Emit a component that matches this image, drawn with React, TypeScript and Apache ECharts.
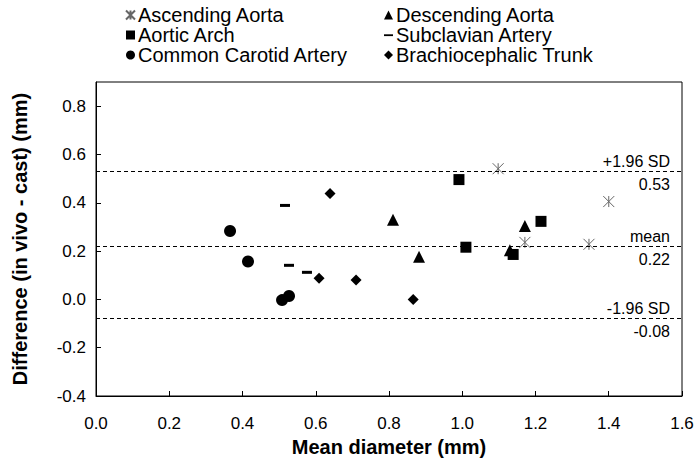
import React, { useEffect, useRef } from "react";
import * as echarts from "echarts";

const seriesNames = [
  "Ascending Aorta",
  "Descending Aorta",
  "Aortic Arch",
  "Subclavian Artery",
  "Common Carotid Artery",
  "Brachiocephalic Trunk",
];

const ascendingAorta: [number, number][] = [
  [1.098, 0.541],
  [1.4, 0.405],
  [1.171, 0.236],
  [1.346, 0.228],
];
const descendingAorta: [number, number][] = [
  [0.811, 0.33],
  [0.882, 0.176],
  [1.13, 0.203],
  [1.171, 0.304],
];
const aorticArch: [number, number][] = [
  [0.991, 0.496],
  [1.01, 0.216],
  [1.139, 0.186],
  [1.215, 0.323],
];
const subclavianArtery: [number, number][] = [
  [0.516, 0.389],
  [0.527, 0.141],
  [0.576, 0.112],
];
const commonCarotid: [number, number][] = [
  [0.366, 0.283],
  [0.415, 0.157],
  [0.508, -0.003],
  [0.527, 0.014],
];
const brachiocephalic: [number, number][] = [
  [0.639, 0.438],
  [0.609, 0.088],
  [0.71, 0.08],
  [0.866, 0.0],
];

const upperLimit = 0.53;
const meanDiff = 0.22;
const lowerLimit = -0.08;
const refLabels = ["+1.96 SD", "mean", "-1.96 SD"];

const FONT = "'Liberation Sans', Arial, sans-serif";

export default function App() {
  const ref = useRef<HTMLDivElement>(null);
  useEffect(() => {
    if (!ref.current) return;
    const chart = echarts.init(ref.current, undefined, { renderer: "svg" });
    const star = "path://M0,0L10,10M10,0L0,10M5,0L5,10";
    const dashIcon = "path://M0,0M0,3.8L9,3.8L9,5.6L0,5.6ZM9,9";
    const lineLabel = (v: number, top: string) => [
      {
        yAxis: v,
        label: {
          show: true,
          position: "insideEndTop",
          formatter: top,
          color: "#000",
          fontSize: 16,
          fontFamily: FONT,
          distance: [12, 2],
        },
      },
      {
        yAxis: v,
        label: {
          show: true,
          position: "insideEndBottom",
          formatter: v.toFixed(2),
          color: "#000",
          fontSize: 16,
          fontFamily: FONT,
          distance: [12, 5],
        },
      },
    ];
    const base = (name: string, data: [number, number][], symbol: string, size: any, color: string, extra: any = {}) => ({
      name,
      type: "scatter",
      data,
      symbol,
      symbolSize: size,
      itemStyle: { color, opacity: 1, ...extra },
      z: 3,
    });
    const legendCommon = {
      orient: "vertical",
      top: 0,
      itemWidth: 9,
      itemHeight: 9,
      itemGap: 0,
      textStyle: {
        fontSize: 20,
        lineHeight: 17.5,
        color: "#000",
        fontFamily: FONT,
        padding: [0, 0, 0, -2],
      },
    };
    chart.setOption({
      animation: false,
      textStyle: { fontFamily: FONT },
      legend: [
        {
          ...legendCommon,
          left: 120,
          data: [seriesNames[0], seriesNames[2], seriesNames[4]],
        },
        {
          ...legendCommon,
          left: 379,
          data: [
            seriesNames[1],
            { name: seriesNames[3], icon: dashIcon },
            seriesNames[5],
          ],
        },
      ],
      grid: {
        left: 96,
        right: 17,
        top: 82,
        bottom: 70,
        show: true,
        borderColor: "#000",
        borderWidth: 1,
        backgroundColor: "transparent",
      },
      xAxis: {
        type: "value",
        min: 0,
        max: 1.6,
        interval: 0.2,
        name: "Mean diameter (mm)",
        nameLocation: "middle",
        nameGap: 41,
        nameTextStyle: { fontSize: 20, fontWeight: "bold", color: "#000", fontFamily: FONT },
        axisLine: { show: true, onZero: false, lineStyle: { color: "#000" } },
        axisTick: { show: true, inside: true, length: 5, lineStyle: { color: "#000" } },
        axisLabel: {
          color: "#000",
          fontSize: 17,
          fontFamily: FONT,
          margin: 19,
          formatter: (v: number) => v.toFixed(1),
        },
        splitLine: { show: false },
      },
      yAxis: {
        type: "value",
        min: -0.4,
        max: 0.9,
        interval: 0.2,
        name: "Difference (in vivo - cast) (mm)",
        nameLocation: "middle",
        nameGap: 66,
        nameTextStyle: { fontSize: 20, fontWeight: "bold", color: "#000", fontFamily: FONT },
        axisLine: { show: true, onZero: false, lineStyle: { color: "#000" } },
        axisTick: { show: true, inside: true, length: 5, lineStyle: { color: "#000" } },
        axisLabel: {
          color: "#000",
          fontSize: 17,
          fontFamily: FONT,
          margin: 10,
          showMaxLabel: false,
          formatter: (v: number) => v.toFixed(1),
        },
        splitLine: { show: false },
      },
      series: [
        {
          ...base(seriesNames[0], ascendingAorta, star, 11, "transparent", { borderColor: "#666", borderWidth: 1 }),
          markLine: {
            silent: true,
            symbol: "none",
            lineStyle: { color: "#000", type: [4, 3], width: 1 },
            data: [
              ...lineLabel(upperLimit, refLabels[0]),
              ...lineLabel(meanDiff, refLabels[1]),
              ...lineLabel(lowerLimit, refLabels[2]),
            ],
          },
        },
        base(seriesNames[1], descendingAorta, "triangle", 12, "#000"),
        base(seriesNames[2], aorticArch, "rect", 11, "#000"),
        base(seriesNames[3], subclavianArtery, "rect", [10, 3], "#000"),
        base(seriesNames[4], commonCarotid, "circle", 12, "#000"),
        base(seriesNames[5], brachiocephalic, "diamond", 11, "#000"),
      ],
    });
    return () => chart.dispose();
  }, []);
  return (
    <div
      ref={ref}
      style={{ position: "absolute", left: 0, top: 0, width: 699, height: 466 }}
    />
  );
}
